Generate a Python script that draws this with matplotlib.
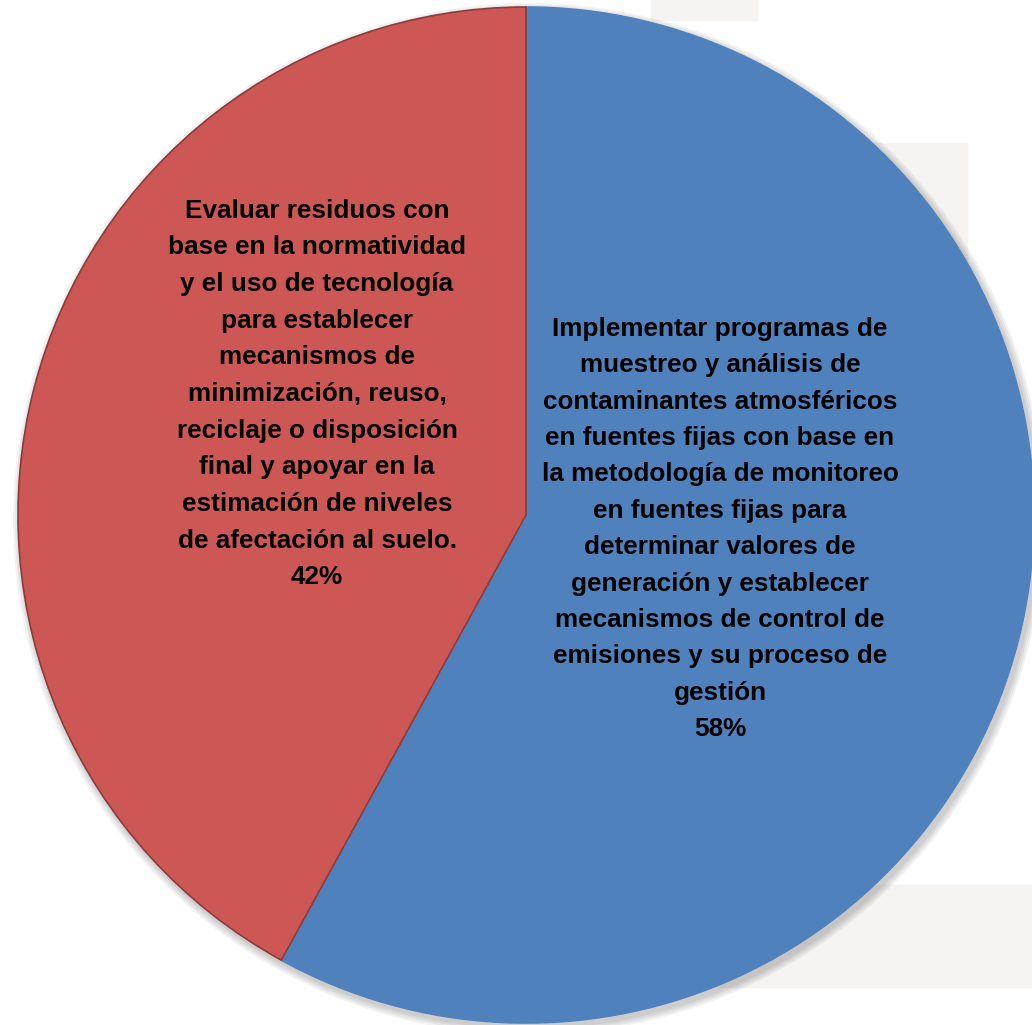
import matplotlib.pyplot as plt
import matplotlib.patches as pth

labels = [
    "Implementar programas de\nmuestreo y análisis de\ncontaminantes atmosféricos\nen fuentes fijas con base en\n"
    "la metodología de monitoreo\nen fuentes fijas para\ndeterminar valores de\ngeneración y establecer\n"
    "mecanismos de control de\nemisiones y su proceso de\ngestión",
    "Evaluar residuos con\nbase en la normatividad\ny el uso de tecnología\npara establecer\nmecanismos de\n"
    "minimización, reuso,\nreciclaje o disposición\nfinal y apoyar en la\nestimación de niveles\n"
    "de afectación al suelo.",
]
shares = [58, 42]
colors = ["#4F81BD", "#CD5755"]
edges = ["#4F81BD", "#8E3B39"]

W, H = 1032, 1025
fig = plt.figure(figsize=(W / 100, H / 100), dpi=100)
ax = fig.add_axes([0, 0, 1, 1])

# faint background blocks
for x, y, w, h in [(651, 1005, 106, 20), (700, 692, 267, 190), (700, 38, 332, 102)]:
    ax.add_patch(pth.Rectangle((x, y), w, h, color="#F5F4F2", zorder=0))

cx, cy, r = 526, 510, 508

# soft shadow
for i in range(4):
    ax.add_patch(pth.Circle((cx + 3, cy - 4), r + 2 + 2 * i, color="black", alpha=0.05, lw=0, zorder=1))

wedges, _ = ax.pie(shares, center=(cx, cy), radius=r, startangle=90, counterclock=False,
                   colors=colors, frame=True)
for w, ec in zip(wedges, edges):
    w.set_edgecolor(ec)
    w.set_linewidth(1.2)
    w.set_zorder(2)
ax.set_xlim(0, W)
ax.set_ylim(0, H)
ax.set_aspect("equal")
ax.axis("off")

font = ["Liberation Sans", "DejaVu Sans"]
ax.text(720, 496, f"{labels[0]}\n{shares[0]}%", ha="center", va="center", fontsize=18.8,
        fontweight="bold", family=font, linespacing=1.65, zorder=3)
ax.text(317, 631, f"{labels[1]}\n{shares[1]}%", ha="center", va="center", fontsize=18.8,
        fontweight="bold", family=font, linespacing=1.665, zorder=3)

fig.savefig("out.png", dpi=100)
